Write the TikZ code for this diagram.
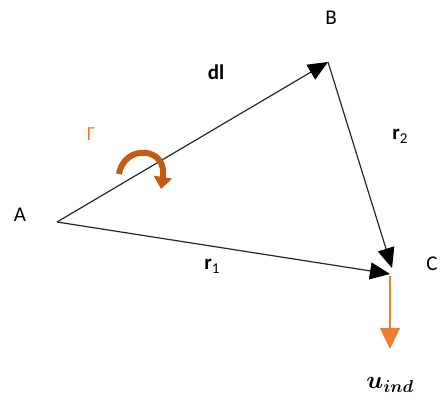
\documentclass[tikz,border=0pt]{standalone}
\usepackage{fontspec}
\usepackage{amsmath}
\setmainfont{Carlito}
\usetikzlibrary{arrows.meta}
\definecolor{orng}{HTML}{ED7D31}
\definecolor{brn}{HTML}{C55A11}
\tikzset{
  lbl/.style={font=\fontsize{21}{24}\selectfont, inner sep=0pt},
  bl/.style={font=\fontsize{21}{24}\selectfont\bfseries, inner sep=0pt},
  vec/.style={line width=1.2pt, draw=black!85, -{Triangle[length=20pt,width=17pt,fill=black,color=black]}},
}
\begin{document}
\begin{tikzpicture}[x=1pt,y=-1pt]
\useasboundingbox (0,0) rectangle (441,406);
\coordinate (pA) at (57,222);
\coordinate (pB) at (328,62);
\coordinate (pC) at (392,268);
\coordinate (pC1) at (390,274);
\coordinate (pO) at (390,276);
\coordinate (pU) at (390,349);
\draw[vec] (pA) -- (pB);
\draw[vec] (pB) -- (pC);
\draw[vec] (pA) -- (pC1);
\draw[orng, line width=1.5pt, -{Triangle[length=21pt,width=20pt]}] (pO) -- (pU);
\draw[brn, line width=6pt, -{Triangle[length=12pt,width=18pt]}] (119,174) .. controls (124,144) and (168,146) .. (161,189);
\node[lbl] (lA) at (20,215) {A};
\node[lbl] (lB) at (331,18) {B};
\node[lbl] (lC) at (432,264) {C};
\node[bl] (ldl) at (216,72) {dl};
\node[bl] (lr2) at (400,136) {r\textmd{\fontsize{15}{15}\selectfont\raisebox{-4pt}{2}}};
\node[bl] (lr1) at (212,266) {r\textmd{\fontsize{15}{15}\selectfont\raisebox{-4pt}{1}}};
\node[font=\fontsize{20}{22}\selectfont, inner sep=0pt, text=orng] (lG) at (91,134) {Γ};
\node[lbl, font=\fontsize{23}{26}\selectfont] (lu) at (390,385) {$\boldsymbol{u_{ind}}$};
\end{tikzpicture}
\end{document}
